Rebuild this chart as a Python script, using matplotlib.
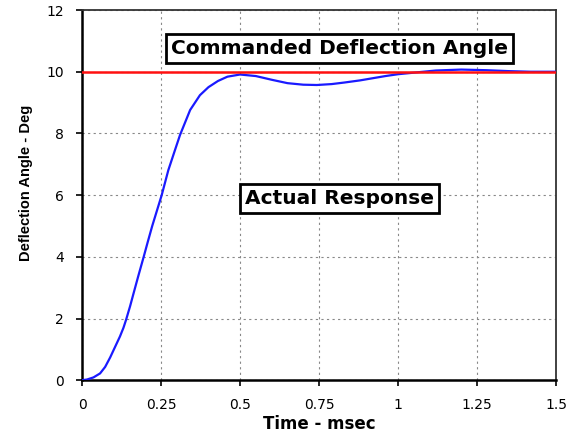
import numpy as np
import matplotlib.pyplot as plt

plt.rcParams['font.family'] = ['DejaVu Sans']

# 응답 곡선
t = [0, 0.015, 0.036, 0.057, 0.073, 0.089, 0.099, 0.12, 0.131, 0.139,
     0.152, 0.162, 0.178, 0.195, 0.207, 0.222, 0.237, 0.252, 0.273, 0.294,
     0.31, 0.342, 0.373, 0.4, 0.43, 0.46, 0.5, 0.55, 0.6, 0.65,
     0.7, 0.743, 0.79, 0.83, 0.88, 0.92, 0.96, 1.0, 1.06, 1.12,
     1.2, 1.28, 1.35, 1.42, 1.5]
angle = [0, 0.02, 0.09, 0.22, 0.43, 0.74, 0.96, 1.42, 1.70, 1.95,
         2.40, 2.78, 3.38, 4.0, 4.45, 5.0, 5.5, 6.0, 6.81, 7.46,
         7.95, 8.76, 9.24, 9.5, 9.7, 9.84, 9.91, 9.86, 9.74, 9.63,
         9.58, 9.57, 9.6, 9.65, 9.72, 9.79, 9.86, 9.92, 9.98, 10.04,
         10.07, 10.05, 10.02, 10.0, 10.0]
commanded = 10

xticks = [0, 0.25, 0.5, 0.75, 1, 1.25, 1.5]
xticklabels = ['0', '0.25', '0.5', '0.75', '1', '1.25', '1.5']
yticks = [0, 2, 4, 6, 8, 10, 12]

fig = plt.figure(figsize=(5.78, 4.37), dpi=100)
ax = fig.add_axes([0.142, 0.130, 0.820, 0.847])

ax.plot(t, angle, color='#1a1aff', linewidth=1.6, zorder=3)
ax.axhline(commanded, color='#ff1010', linewidth=1.8, zorder=4)

ax.set_xlim(0, 1.5)
ax.set_ylim(0, 12)
ax.set_xticks(xticks)
ax.set_xticklabels(xticklabels)
ax.set_yticks(yticks)
ax.tick_params(labelsize=10, direction='out', length=4, width=1.2, pad=9)

ax.grid(True, linestyle=(0, (2, 3)), color='#888888', linewidth=0.8)
for s in ['left', 'bottom']:
    ax.spines[s].set_linewidth(1.8)
for s in ['top', 'right']:
    ax.spines[s].set_linewidth(1.3)
    ax.spines[s].set_color('#333333')

ax.set_xlabel('Time - msec', fontsize=12, fontweight='bold')
ax.xaxis.set_label_coords(0.5, -0.094)
ax.set_ylabel('Deflection Angle - Deg', fontsize=10.5, fontweight='bold',
              family=['Liberation Sans', 'DejaVu Sans'])
ax.yaxis.set_label_coords(-0.104, 0.534)

box = dict(boxstyle='square,pad=0.25', facecolor='white', edgecolor='black', linewidth=2)
ax.text(0.816, 10.75, 'Commanded Deflection Angle', fontsize=14.5, fontweight='bold',
        ha='center', va='center', bbox=box, zorder=5)
ax.text(0.816, 5.9, 'Actual Response', fontsize=14.5, fontweight='bold',
        ha='center', va='center', bbox=box, zorder=5)

fig.savefig('out.png', dpi=100)
